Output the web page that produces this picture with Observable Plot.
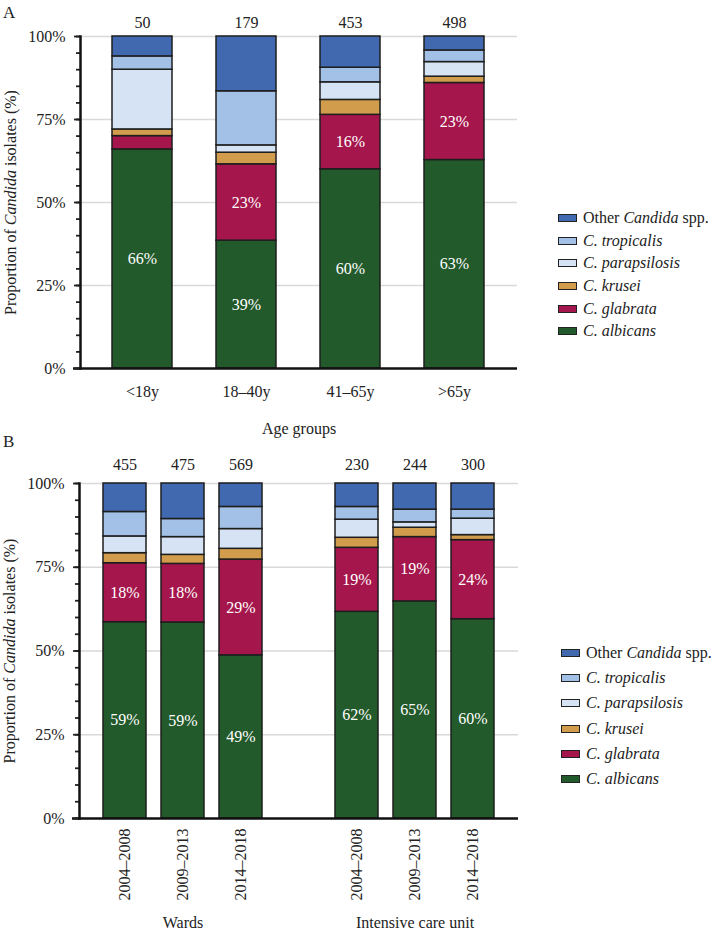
<!DOCTYPE html>
<html><head><meta charset="utf-8">
<script src="https://cdn.jsdelivr.net/npm/d3@7"></script>
<script src="https://cdn.jsdelivr.net/npm/@observablehq/plot@0.6"></script>
<style>
body{margin:0;background:#fff;font-family:"Liberation Serif","DejaVu Serif",serif;color:#222;}
#wrap{position:relative;width:713px;height:932px;overflow:hidden;}
.panel{position:absolute;left:0;}
.letter{position:absolute;font-size:17px;line-height:1;}
.legend{position:absolute;font-size:16px;}
.row{display:flex;align-items:center;white-space:nowrap;}
.sw{width:17px;height:6px;border:1.6px solid #222;margin-right:6px;flex:none;}
svg text{font-family:"Liberation Serif","DejaVu Serif",serif;}
</style></head><body><div id="wrap"></div>
<script>
// ---------- data ----------
const speciesOrder = ["C. albicans","C. glabrata","C. krusei","C. parapsilosis","C. tropicalis","Other Candida spp."];
const speciesColors = ["#235a2b","#a5174c","#d19c4c","#d6e3f4","#a3c0e6","#4169b0"];
const legendLabels = ["Other <i>Candida</i> spp.","<i>C. tropicalis</i>","<i>C. parapsilosis</i>","<i>C. krusei</i>","<i>C. glabrata</i>","<i>C. albicans</i>"];
const yTitle = "Proportion of Candida isolates (%)";

// Panel A: age groups
const ageGroups = ["<18y","18–40y","41–65y",">65y"];
const ageN = [50,179,453,498];
const ageAlbicans = [66,38.5,60,62.8];
const ageGlabrata = [4,23,16.4,23.2];
const ageKrusei = [2,3.5,4.5,1.9];
const ageParapsilosis = [18,2.2,5.3,4.4];
const ageTropicalis = [4,16.3,4.4,3.5];
const ageOther = [6,16.5,9.4,4.2];

// Panel B: wards vs ICU by period
const periods = ["2004–2008","2009–2013","2014–2018"];
const settings = ["Wards","Intensive care unit"];
const wardN = [455,475,569];
const icuN = [230,244,300];
const wardAlbicans = [58.6,58.5,48.7];
const wardGlabrata = [17.6,17.5,28.6];
const wardKrusei = [3.0,2.7,3.2];
const wardParapsilosis = [5.0,5.3,5.9];
const wardTropicalis = [7.3,5.4,6.6];
const wardOther = [8.5,10.6,7.0];
const icuAlbicans = [61.7,64.8,59.5];
const icuGlabrata = [19.1,19.2,23.6];
const icuKrusei = [3.0,2.8,1.5];
const icuParapsilosis = [5.4,1.6,4.9];
const icuTropicalis = [3.8,3.8,2.7];
const icuOther = [7.0,7.8,7.8];

// ---------- helpers ----------
const FONT = '"Liberation Serif","DejaVu Serif",serif';
const wrap = document.getElementById("wrap");
const labelText = d => (d.species === "C. albicans" || d.species === "C. glabrata") && d.value >= 10 ? Math.round(d.value) + "%" : null;

function fixTitle(svg) {
  d3.select(svg).selectAll("text").filter(function(){ return this.textContent === yTitle; })
    .html('Proportion of <tspan font-style="italic">Candida</tspan> isolates (%)');
}
function commonMarks(rows) {
  return [
    Plot.gridY([25,50,75,100], {stroke:"#d9d9d9", strokeOpacity:1, strokeWidth:1.5}),
    Plot.barY(rows, {x:"key", y:"value", fill:"species", stroke:"#1e1e1e", strokeWidth:1.5, order: speciesOrder}),
    Plot.text(rows, Plot.stackY({x:"key", y:"value", z:"species", order: speciesOrder, text: labelText, fill:"white", fontSize:16})),
    Plot.ruleY([0], {stroke:"#111", strokeWidth:2.5, insetLeft:-7}),
    Plot.axisY(d3.range(0,101,5), {tickSize:4, tickFormat: () => "", strokeWidth:1.8, label:null}),
    Plot.axisY([0,25,50,75,100], {tickSize:6, tickPadding:9, tickFormat: d => d + "%", strokeWidth:1.8, label:null, fontSize:16}),
    Plot.frame({anchor:"left", stroke:"#111", strokeWidth:2.5}),
    Plot.text([yTitle], {frameAnchor:"left", textAnchor:"middle", lineAnchor:"middle", dx:-70, rotate:-90, fontSize:16})
  ];
}
function legend(left, top, rowH) {
  const lg = document.createElement("div");
  lg.className = "legend";
  lg.style.left = left + "px"; lg.style.top = top + "px";
  const idx = [5,4,3,2,1,0];
  idx.forEach((j,k) => {
    const r = document.createElement("div");
    r.className = "row"; r.style.height = rowH + "px";
    r.innerHTML = `<span class="sw" style="background:${speciesColors[j]}"></span><span>${legendLabels[k]}</span>`;
    lg.appendChild(r);
  });
  wrap.appendChild(lg);
}
function letter(t, left, top) {
  const d = document.createElement("div");
  d.className = "letter"; d.textContent = t;
  d.style.left = left + "px"; d.style.top = top + "px";
  wrap.appendChild(d);
}

// ---------- Panel A ----------
const ageSeries = [ageAlbicans, ageGlabrata, ageKrusei, ageParapsilosis, ageTropicalis, ageOther];
const rowsA = ageGroups.flatMap((g,i) => speciesOrder.map((s,j) => ({key:g, species:s, value:ageSeries[j][i]})));
const plotA = Plot.plot({
  width:713, height:440, marginLeft:80, marginRight:196, marginTop:36, marginBottom:72,
  style:{fontFamily:FONT, fontSize:"16px", color:"#222", background:"transparent"},
  x:{domain:ageGroups, paddingInner:0.422, paddingOuter:0.298},
  y:{domain:[0,100]},
  color:{domain:speciesOrder, range:speciesColors},
  marks:[
    ...commonMarks(rowsA),
    Plot.axisX({tickSize:0, tickPadding:17, label:null, fontSize:16}),
    Plot.text(ageGroups, {x:d => d, text:(d,i) => ageN[i], frameAnchor:"top", lineAnchor:"middle", dy:-14, fontSize:16}),
    Plot.text(["Age groups"], {frameAnchor:"bottom", lineAnchor:"middle", dy:60, fontSize:16})
  ]
});
fixTitle(plotA);
const pa = document.createElement("div"); pa.className = "panel"; pa.style.top = "0px";
pa.appendChild(plotA); wrap.appendChild(pa);

// ---------- Panel B ----------
const key = (s,p) => (s === "Wards" ? "W|" : "I|") + p;
const keysB = [...periods.map(p => key("Wards",p)), "gap", ...periods.map(p => key("Intensive care unit",p))];
const wardSeries = [wardAlbicans, wardGlabrata, wardKrusei, wardParapsilosis, wardTropicalis, wardOther];
const icuSeries = [icuAlbicans, icuGlabrata, icuKrusei, icuParapsilosis, icuTropicalis, icuOther];
const rowsB = [
  ...periods.flatMap((p,i) => speciesOrder.map((s,j) => ({key:key("Wards",p), species:s, value:wardSeries[j][i]}))),
  ...periods.flatMap((p,i) => speciesOrder.map((s,j) => ({key:key("Intensive care unit",p), species:s, value:icuSeries[j][i]})))
];
const nB = [...wardN, ...icuN];
const barKeys = keysB.filter(k => k !== "gap");
const plotB = Plot.plot({
  width:713, height:492, marginLeft:79, marginRight:195, marginTop:43, marginBottom:114,
  style:{fontFamily:FONT, fontSize:"16px", color:"#222", background:"transparent"},
  x:{domain:keysB, paddingInner:0.26, paddingOuter:0.382},
  y:{domain:[0,100]},
  color:{domain:speciesOrder, range:speciesColors},
  marks:[
    ...commonMarks(rowsB),
    Plot.axisX(barKeys, {tickSize:0, tickPadding:10, tickRotate:-90, tickFormat:k => k.split("|")[1], label:null, fontSize:16}),
    Plot.text(barKeys, {x:d => d, text:(d,i) => nB[i], frameAnchor:"top", lineAnchor:"middle", dy:-19, fontSize:16}),
    Plot.text(settings, {x:s => key(s, periods[1]), text:d => d, frameAnchor:"bottom", lineAnchor:"middle", dy:104, fontSize:16})
  ]
});
fixTitle(plotB);
const pb = document.createElement("div"); pb.className = "panel"; pb.style.top = "440px";
pb.appendChild(plotB); wrap.appendChild(pb);

// ---------- legends & letters ----------
legend(558, 218 - 11.35, 22.7);
legend(561, 653 - 12.6, 25.2);
letter("A", 3, 4);
letter("B", 3, 433);
</script></body></html>
